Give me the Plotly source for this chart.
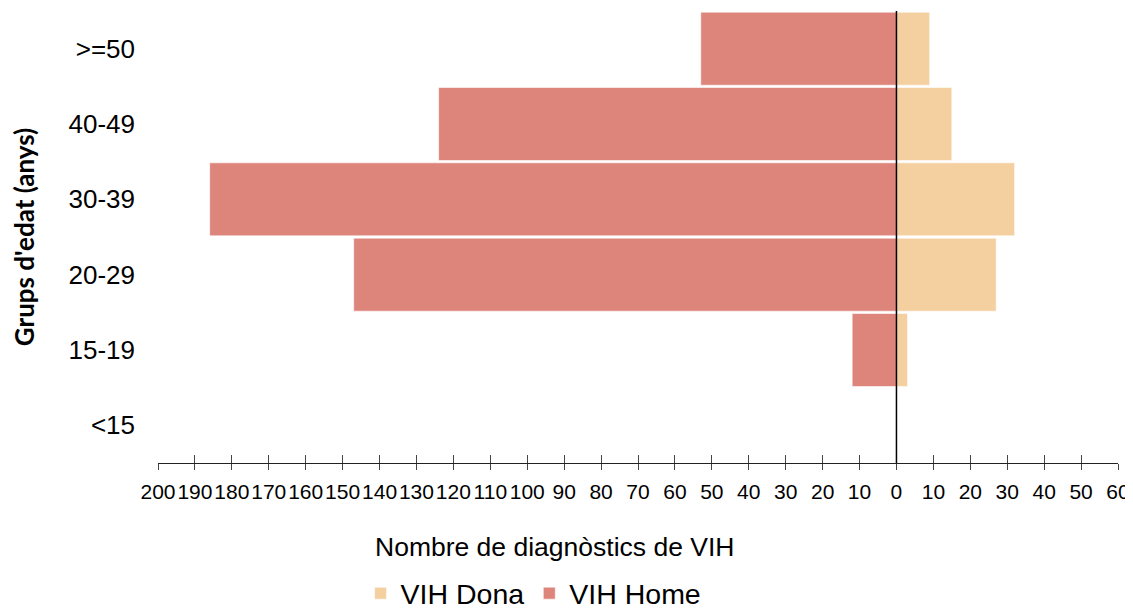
import plotly.graph_objects as go

categories = ["<15", "15-19", "20-29", "30-39", "40-49", ">=50"]
vih_home = [0, 12, 147, 186, 124, 53]
vih_dona = [0, 3, 27, 32, 15, 9]
tick_vals = list(range(-200, 61, 10))
tick_text = [str(abs(v)) for v in tick_vals]

COL_HOME = "#DD847B"
COL_DONA = "#F4CFA0"

fig = go.Figure()
fig.add_trace(go.Bar(
    y=categories, x=vih_dona, orientation="h", name="VIH Dona",
    marker=dict(color=COL_DONA, line=dict(color="rgba(255,255,255,0.6)", width=1)),
))
fig.add_trace(go.Bar(
    y=categories, x=[-v for v in vih_home], orientation="h", name="VIH Home",
    marker=dict(color=COL_HOME, line=dict(color="rgba(255,255,255,0.6)", width=1)),
))
# invisible trace to activate overlay axis for crossing ticks
fig.add_trace(go.Scatter(x=[0], y=[categories[0]], xaxis="x2", mode="markers",
                         marker=dict(opacity=0), showlegend=False, hoverinfo="skip"))

fig.update_layout(
    width=1125, height=604,
    margin=dict(l=150, r=15, t=3, b=149, autoexpand=False),
    paper_bgcolor="white", plot_bgcolor="white",
    barmode="relative", bargap=0.03,
    font=dict(family="Liberation Sans, Arial, sans-serif", color="#000000"),
    showlegend=True,
    legend=dict(orientation="h", x=0.211, xanchor="left", y=-0.289, yanchor="middle",
                font=dict(size=28.5, family="Liberation Sans, Arial, sans-serif"),
                traceorder="normal", itemwidth=30),
    xaxis=dict(range=[-200, 60], tickvals=tick_vals, ticktext=tick_text, tickangle=0,
               automargin=False, ticklabelstandoff=4,
               showgrid=False, zeroline=False, showline=True, linecolor="#222222", linewidth=1,
               ticks="outside", ticklen=6, tickcolor="#444444",
               tickfont=dict(size=21), fixedrange=True),
    xaxis2=dict(range=[-200, 60], overlaying="x", matches="x", anchor="y", side="bottom",
                tickvals=tick_vals, showticklabels=False, ticks="inside", ticklen=8,
                automargin=False,
                tickcolor="#444444", showgrid=False, zeroline=False, showline=False),
    yaxis=dict(categoryorder="array", categoryarray=categories, showgrid=False,
               automargin=False,
               zeroline=False, showline=False, ticks="", tickfont=dict(size=26),
               ticklabelstandoff=22,
               title=dict(text="<b>Grups d'edat (anys)</b>",
                          font=dict(family="Lato, sans-serif", size=26), standoff=34)),
    shapes=[dict(type="line", xref="x", yref="paper", x0=0, x1=0, y0=0, y1=1,
                 line=dict(color="#000000", width=1.5), layer="above")],
    annotations=[dict(text="Nombre de diagnòstics de VIH", xref="paper", yref="paper",
                      x=0.4125, y=-0.186, xanchor="center", yanchor="middle",
                      showarrow=False, font=dict(size=26.5))],
)

fig.write_html("out.html")
